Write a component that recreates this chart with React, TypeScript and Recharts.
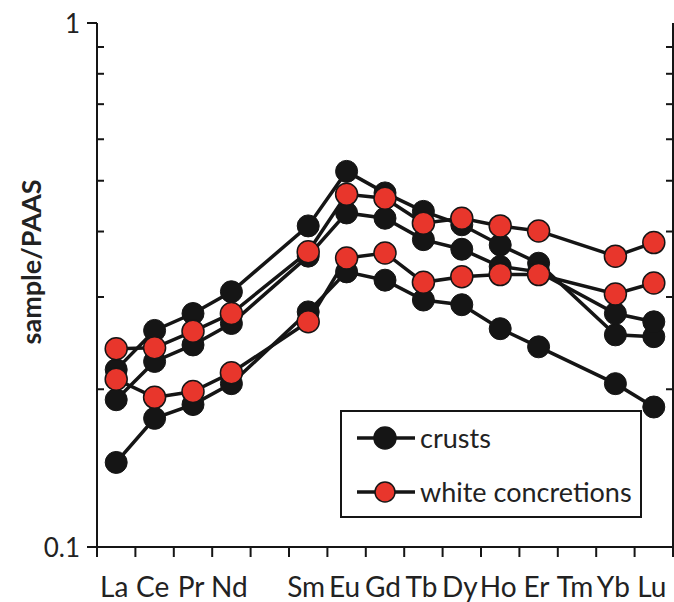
import React from 'react';
import { LineChart, Line, XAxis, YAxis, Label } from 'recharts';

// REE pattern, sample/PAAS, log scale (Pm and Tm not measured)
const elements = ['La', 'Ce', 'Pr', 'Nd', 'Pm', 'Sm', 'Eu', 'Gd', 'Tb', 'Dy', 'Ho', 'Er', 'Tm', 'Yb', 'Lu'];
const tickLabels = ['La', 'Ce', 'Pr', 'Nd', '', 'Sm', 'Eu', 'Gd', 'Tb', 'Dy', 'Ho', 'Er', 'Tm', 'Yb', 'Lu'];

const crustsA = [0.218, 0.259, 0.279, 0.307, null, 0.41, 0.521, 0.474, 0.437, 0.412, 0.377, 0.348, null, 0.254, 0.252];
const crustsB = [0.191, 0.226, 0.243, 0.267, null, 0.359, 0.434, 0.424, 0.386, 0.37, 0.343, 0.335, null, 0.279, 0.269];
const crustsC = [0.145, 0.176, 0.187, 0.205, null, 0.281, 0.335, 0.323, 0.296, 0.29, 0.261, 0.241, null, 0.205, 0.185];
const whiteA = [0.239, 0.24, 0.258, 0.279, null, 0.366, 0.471, 0.463, 0.415, 0.424, 0.41, 0.401, null, 0.359, 0.381];
const whiteB = [0.209, 0.193, 0.198, 0.215, null, 0.269, 0.356, 0.364, 0.32, 0.328, 0.331, 0.331, null, 0.304, 0.319];

const yTicks = [0.1, 0.2, 0.3, 0.4, 0.5, 0.6, 0.7, 0.8, 0.9, 1];
const xTicks = elements.map((_, i) => i).concat(elements.length);

const data = elements.map((el, i) => ({
  x: i + 0.5,
  el,
  cA: crustsA[i],
  cB: crustsB[i],
  cC: crustsC[i],
  wA: whiteA[i],
  wB: whiteB[i],
}));

const W = 674;
const H = 602;
const Y_AXIS_W = 97;
const RIGHT_W = 1;
const BAND = (W - Y_AXIS_W - RIGHT_W) / elements.length;
const INK = '#151515';
const RED = '#e8362c';
const FONT = 'Lato, "Noto Sans", sans-serif';

const XTick = (props: any) => {
  const { x, y, payload } = props;
  const i = payload.value;
  return (
    <g>
      <line x1={x} x2={x} y1={y} y2={y + 10} stroke={INK} strokeWidth={2} />
      {i < elements.length && tickLabels[i] ? (
        <text x={x + BAND / 2 - 2} y={y + 39} textAnchor="middle" dominantBaseline="central"
          fontSize={28} fill="#222" fontFamily={FONT}>
          {tickLabels[i]}
        </text>
      ) : null}
    </g>
  );
};

const isMajor = (v: number) => v === 0.1 || v === 1;

const LeftTick = (props: any) => {
  const { x, y, payload } = props;
  const v = payload.value;
  if (isMajor(v)) {
    return (
      <g>
        <line x1={x - 10} x2={x} y1={y} y2={y} stroke={INK} strokeWidth={2} />
        <text x={x - 17} y={y} textAnchor="end" dominantBaseline="central" fontSize={26} fill="#222" fontFamily={FONT}>
          {v === 1 ? '1' : '0.1'}
        </text>
      </g>
    );
  }
  return <line x1={x} x2={x + 7} y1={y} y2={y} stroke={INK} strokeWidth={2} />;
};

const RightTick = (props: any) => {
  const { x, y, payload } = props;
  if (isMajor(payload.value)) return <g />;
  return <line x1={x - 7} x2={x} y1={y} y2={y} stroke={INK} strokeWidth={2} />;
};

const YTitle = (props: any) => {
  const vb = props.viewBox || { x: 0, y: 23 };
  const cx = vb.x + 30;
  const cy = vb.y + 239;
  return (
    <text x={cx} y={cy} transform={`rotate(-90, ${cx}, ${cy})`} textAnchor="middle" dominantBaseline="central"
      fontSize={27} fontWeight="bold" fill="#222" fontFamily={FONT}>
      sample/PAAS
    </text>
  );
};

const blackDot = { r: 11, fill: INK, stroke: INK, strokeWidth: 1 };
const redDot = { r: 11, fill: RED, stroke: INK, strokeWidth: 1.5 };

const legendItems = [
  { name: 'crusts', fill: INK },
  { name: 'white concretions', fill: RED },
];

const LegendBox = () => (
  <div style={{
    position: 'absolute', left: 340, top: 410, width: 302, height: 108, boxSizing: 'border-box',
    border: `2px solid ${INK}`, background: '#fff', fontFamily: FONT, fontSize: 27, color: '#222',
  }}>
    {legendItems.map((it, k) => (
      <div key={it.name} style={{ position: 'absolute', left: 13, top: k === 0 ? 8 : 62, height: 36, display: 'flex', alignItems: 'center' }}>
        <svg width={62} height={36}>
          <line x1={2} x2={60} y1={18} y2={18} stroke={INK} strokeWidth={3.5} />
          <circle cx={30} cy={18} r={k === 0 ? 11 : 10} fill={it.fill} stroke={INK} strokeWidth={1.5} />
        </svg>
        <span style={{ marginLeft: 3, lineHeight: '36px' }}>{it.name}</span>
      </div>
    ))}
  </div>
);

const App: React.FC = () => {
  return (
    <div style={{ position: 'fixed', left: 0, top: 0, width: W, height: H, background: '#fff' }}>
      <LineChart width={W} height={H} data={data} margin={{ top: 23, right: 0, bottom: 0, left: 0 }}>
        <XAxis xAxisId="top" orientation="top" type="number" dataKey="x" domain={[0, 15]} height={0}
          tick={false} tickLine={false} axisLine={{ stroke: INK, strokeWidth: 2 }} />
        <XAxis xAxisId="bottom" orientation="bottom" type="number" dataKey="x" domain={[0, 15]} ticks={xTicks}
          interval={0} height={55} tickSize={0} tickMargin={0} tickLine={false} tick={<XTick />}
          axisLine={{ stroke: INK, strokeWidth: 2 }} />
        <YAxis yAxisId="left" type="number" scale="log" domain={[0.1, 1]} allowDataOverflow ticks={yTicks}
          interval={0} width={Y_AXIS_W} tickSize={0} tickMargin={0} tickLine={false} tick={<LeftTick />}
          axisLine={{ stroke: INK, strokeWidth: 2 }}>
          <Label content={<YTitle />} />
        </YAxis>
        <YAxis yAxisId="right" orientation="right" type="number" scale="log" domain={[0.1, 1]} allowDataOverflow
          ticks={yTicks} interval={0} width={RIGHT_W} tickSize={0} tickMargin={0} tickLine={false}
          tick={<RightTick />} axisLine={{ stroke: INK, strokeWidth: 2 }} />
        <Line xAxisId="bottom" yAxisId="left" type="linear" dataKey="cA" stroke={INK} strokeWidth={3.5}
          dot={blackDot} activeDot={false} connectNulls isAnimationActive={false} />
        <Line xAxisId="bottom" yAxisId="left" type="linear" dataKey="cB" stroke={INK} strokeWidth={3.5}
          dot={blackDot} activeDot={false} connectNulls isAnimationActive={false} />
        <Line xAxisId="bottom" yAxisId="left" type="linear" dataKey="cC" stroke={INK} strokeWidth={3.5}
          dot={blackDot} activeDot={false} connectNulls isAnimationActive={false} />
        <Line xAxisId="bottom" yAxisId="left" type="linear" dataKey="wA" stroke={INK} strokeWidth={3.5}
          dot={redDot} activeDot={false} connectNulls isAnimationActive={false} />
        <Line xAxisId="bottom" yAxisId="left" type="linear" dataKey="wB" stroke={INK} strokeWidth={3.5}
          dot={redDot} activeDot={false} connectNulls isAnimationActive={false} />
      </LineChart>
      <LegendBox />
    </div>
  );
};

export default App;
